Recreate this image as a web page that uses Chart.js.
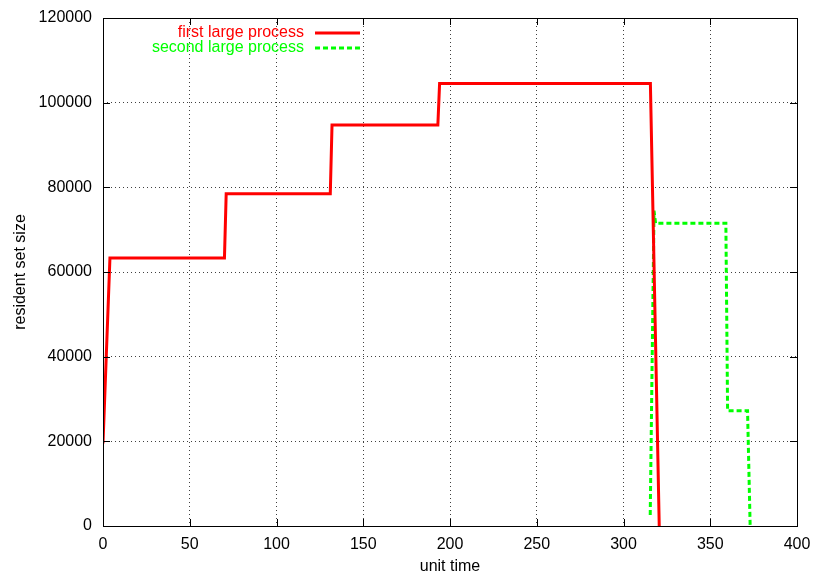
<!DOCTYPE html>
<html>
<head>
<meta charset="utf-8">
<script src="https://cdn.jsdelivr.net/npm/chart.js@4/dist/chart.umd.min.js"></script>
<style>
  html, body { margin: 0; padding: 0; background: #fff; }
  #wrap { width: 814px; height: 579px; }
</style>
</head>
<body>
<div id="wrap"><canvas id="rssChart" width="814" height="579"></canvas></div>
<script>
// series (unit time, resident set size)
const firstTimes = [0, 4, 70, 71, 131, 132, 193, 194, 315.5, 320.6];
const firstRss = [19500, 63300, 63300, 78500, 78500, 94700, 94700, 104500, 104500, 0];
const secondTimes = [315.4, 317.6, 318.5, 359, 360, 371.5, 373];
const secondRss = [2600, 74500, 71500, 71500, 27200, 27200, 0];
const seriesNames = ['first large process', 'second large process'];
const seriesColors = ['#ff0000', '#00ff00'];

const toPoints = (xs, ys) => xs.map((x, i) => ({ x: x, y: ys[i] }));

const fontFamily = '"Liberation Sans", Arial, sans-serif';

// gnuplot style frame: solid box, inward ticks on all sides, legend in top left
const framePlugin = {
    id: 'frame',
    afterDraw(chart) {
        const { ctx, chartArea: a, scales } = chart;
        const tickLen = 7;
        ctx.save();
        ctx.strokeStyle = '#000';
        ctx.lineWidth = 1;
        ctx.setLineDash([]);
        ctx.beginPath();
        scales.x.ticks.forEach(t => {
            const px = Math.round(scales.x.getPixelForValue(t.value)) + 0.5;
            ctx.moveTo(px, a.bottom); ctx.lineTo(px, a.bottom - tickLen);
            ctx.moveTo(px, a.top); ctx.lineTo(px, a.top + tickLen);
        });
        scales.y.ticks.forEach(t => {
            const py = Math.round(scales.y.getPixelForValue(t.value)) + 0.5;
            ctx.moveTo(a.left, py); ctx.lineTo(a.left + tickLen, py);
            ctx.moveTo(a.right, py); ctx.lineTo(a.right - tickLen, py);
        });
        ctx.stroke();
        ctx.strokeRect(Math.round(a.left) + 0.5, Math.round(a.top) + 0.5,
            Math.round(a.right - a.left), Math.round(a.bottom - a.top));

        // legend
        ctx.font = '16px ' + fontFamily;
        ctx.textAlign = 'right';
        ctx.textBaseline = 'middle';
        const rows = [{ y: 33, dash: [] }, { y: 48, dash: [5, 3] }];
        rows.forEach((r, i) => {
            ctx.fillStyle = seriesColors[i];
            ctx.fillText(seriesNames[i], 304, r.y);
            ctx.strokeStyle = seriesColors[i];
            ctx.lineWidth = 3;
            ctx.setLineDash(r.dash);
            ctx.beginPath();
            ctx.moveTo(315, r.y);
            ctx.lineTo(360, r.y);
            ctx.stroke();
        });
        ctx.restore();
    }
};

const gridStyle = {
    color: 'rgba(0,0,0,0.75)',
    lineWidth: 1,
    drawTicks: false
};

new Chart(document.getElementById('rssChart').getContext('2d'), {
    type: 'line',
    data: {
        datasets: [
            {
                label: seriesNames[0],
                data: toPoints(firstTimes, firstRss),
                borderColor: seriesColors[0],
                borderWidth: 3,
                pointRadius: 0,
                tension: 0,
                fill: false
            },
            {
                label: seriesNames[1],
                data: toPoints(secondTimes, secondRss),
                borderColor: seriesColors[1],
                borderWidth: 3,
                borderDash: [5, 3],
                pointRadius: 0,
                tension: 0,
                fill: false
            }
        ]
    },
    options: {
        responsive: false,
        animation: false,
        devicePixelRatio: 1,
        layout: { padding: { left: 0, right: 17, top: 18, bottom: 0 } },
        plugins: {
            legend: { display: false },
            tooltip: { enabled: false }
        },
        scales: {
            x: {
                type: 'linear',
                min: 0,
                max: 400,
                afterFit(scale) {
                    scale.height = 53;
                    scale.paddingLeft = 0;
                    scale.paddingRight = 0;
                },
                ticks: {
                    stepSize: 50,
                    color: '#000',
                    padding: 9,
                    maxRotation: 0,
                    font: { family: fontFamily, size: 16 }
                },
                grid: gridStyle,
                border: { display: false, dash: [1, 3] },
                title: {
                    display: true,
                    text: 'unit time',
                    color: '#000',
                    padding: { top: 0, bottom: 3 },
                    font: { family: fontFamily, size: 16 }
                }
            },
            y: {
                min: 0,
                max: 120000,
                afterFit(scale) {
                    scale.width = 103;
                    scale.paddingTop = 0;
                    scale.paddingBottom = 0;
                },
                ticks: {
                    stepSize: 20000,
                    color: '#000',
                    padding: 11,
                    callback: v => String(v),
                    font: { family: fontFamily, size: 16 }
                },
                grid: gridStyle,
                border: { display: false, dash: [1, 3] },
                title: {
                    display: true,
                    text: 'resident set size',
                    color: '#000',
                    padding: { top: 11, bottom: 0 },
                    font: { family: fontFamily, size: 16 }
                }
            }
        }
    },
    plugins: [framePlugin]
});
</script>
</body>
</html>
